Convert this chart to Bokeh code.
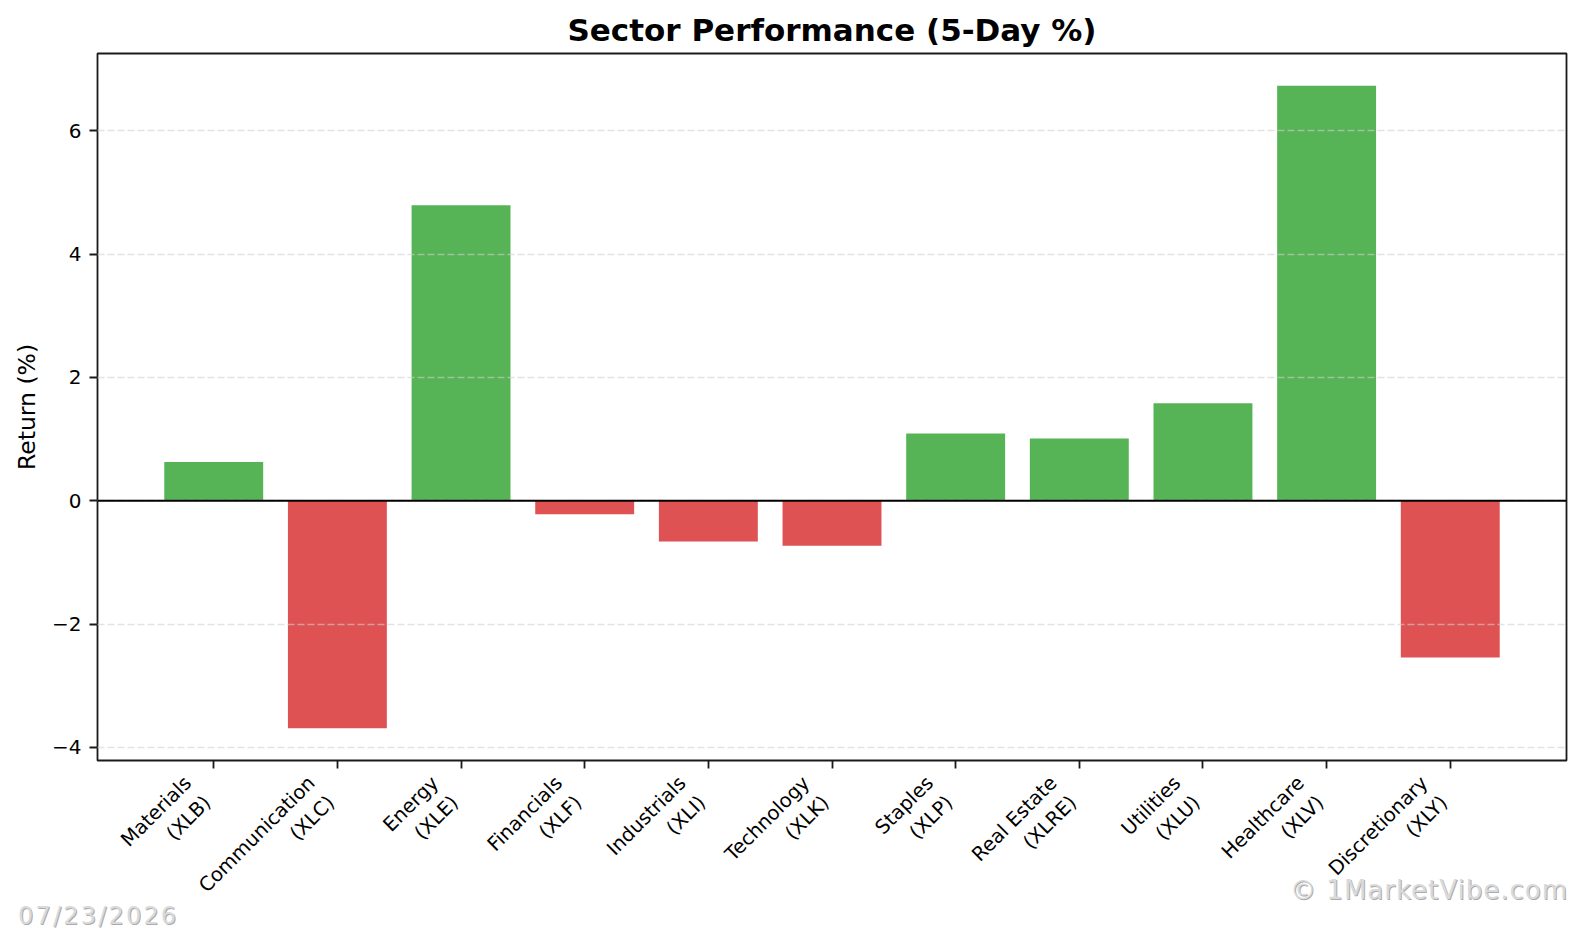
import math

from bokeh.embed import file_html
from bokeh.layouts import column
from bokeh.models import ColumnDataSource, Div, FixedTicker, Range1d, Span
from bokeh.plotting import figure
from bokeh.resources import INLINE

# Sector ETF 5-day returns (%)
sectors = ["Materials", "Communication", "Energy", "Financials", "Industrials",
           "Technology", "Staples", "Real Estate", "Utilities", "Healthcare",
           "Discretionary"]
tickers = ["XLB", "XLC", "XLE", "XLF", "XLI", "XLK", "XLP", "XLRE", "XLU",
           "XLV", "XLY"]
returns = [0.63, -3.69, 4.79, -0.22, -0.66, -0.73, 1.09, 1.01, 1.58, 6.73, -2.54]

y_ticks = [-4, -2, 0, 2, 4, 6]
y_tick_labels = ["\u22124", "\u22122", "0", "2", "4", "6"]

date_text = "07/23/2026"
credit_text = "\u00a9 1MarketVibe.com"

UP = "#2ca02c"
DOWN = "#d62728"
FONT = "DejaVu Sans"
BAR_W = 0.8
LABEL_SHIFT = 0.13   # slide rotated category labels left of their ticks

W, H = 1582, 937
FRAME_L, FRAME_R, FRAME_T, FRAME_B = 97, 1566, 53, 760

idx = list(range(len(sectors)))
colors = [UP if r >= 0 else DOWN for r in returns]
src = ColumnDataSource(dict(x=idx, top=returns, color=colors))

# axis limits with a 5% margin around the data, as in autoscaling
x_lo, x_hi = -BAR_W / 2, len(idx) - 1 + BAR_W / 2
x_pad = 0.05 * (x_hi - x_lo)
y_lo, y_hi = min(0, min(returns)), max(0, max(returns))
y_pad = 0.05 * (y_hi - y_lo)

p = figure(
    width=W, height=H,
    x_range=Range1d(x_lo - x_pad, x_hi + x_pad),
    y_range=Range1d(y_lo - y_pad, y_hi + y_pad),
    output_backend="svg", toolbar_location=None, tools="",
    min_border_left=FRAME_L, min_border_right=W - FRAME_R,
    min_border_top=FRAME_T, min_border_bottom=H - FRAME_B,
    background_fill_color="white", border_fill_color="white",
)

p.vbar(x="x", top="top", bottom=0, width=BAR_W, source=src,
       fill_color="color", fill_alpha=0.8, line_color=None)

# title
p.title.text = "Sector Performance (5-Day %)"
p.title.align = "center"
p.title.text_font = FONT
p.title.text_font_size = "31px"
p.title.text_font_style = "bold"
p.title.text_color = "black"
p.title.standoff = 12

# frame
p.outline_line_color = "#1a1a1a"
p.outline_line_width = 1.8
p.outline_line_alpha = 1.0

# grid: horizontal dashed only, drawn above the bars
p.xgrid.grid_line_color = None
p.ygrid.ticker = FixedTicker(ticks=y_ticks)
p.ygrid.grid_line_color = "#d0d0d0"
p.ygrid.grid_line_alpha = 0.6
p.ygrid.grid_line_width = 1.6
p.ygrid.grid_line_dash = "7 3"
p.ygrid.level = "overlay"

# zero reference line
p.add_layout(Span(location=0, dimension="width", line_color="black",
                  line_width=1.8, level="overlay"))

# x axis: tick marks drawn as minor ticks at the bar centres, labels on
# (invisible) major ticks slid slightly left so the rotated text ends at the tick
label_pos = [i - LABEL_SHIFT for i in idx]
xa = p.xaxis[0]
xa.ticker = FixedTicker(ticks=label_pos, minor_ticks=idx)
xa.major_label_overrides = {pos: f"{s}\n({t})"
                            for pos, s, t in zip(label_pos, sectors, tickers)}
xa.major_label_orientation = math.pi / 4
xa.major_label_text_font = FONT
xa.major_label_text_font_size = "19.6px"
xa.major_label_text_color = "black"
xa.major_label_standoff = 21
xa.major_tick_out = 0
xa.major_tick_in = 0
xa.major_tick_line_color = None
xa.minor_tick_out = 8
xa.minor_tick_in = 0
xa.minor_tick_line_color = "#1a1a1a"
xa.minor_tick_line_width = 1.8
xa.axis_line_color = None

# y axis
ya = p.yaxis[0]
ya.ticker = FixedTicker(ticks=y_ticks)
ya.major_label_overrides = dict(zip(y_ticks, y_tick_labels))
ya.major_label_text_font = FONT
ya.major_label_text_font_size = "20px"
ya.major_label_text_color = "black"
ya.major_label_standoff = 8
ya.major_tick_out = 8
ya.major_tick_in = 0
ya.minor_tick_line_color = None
ya.major_tick_line_color = "#1a1a1a"
ya.major_tick_line_width = 1.8
ya.axis_line_color = None
ya.axis_label = "Return (%)"
ya.axis_label_text_font = FONT
ya.axis_label_text_font_size = "23.5px"
ya.axis_label_text_font_style = "normal"
ya.axis_label_text_color = "black"
ya.axis_label_standoff = 8

# footer stamps: a transparent strip laid over the bottom edge of the figure
FOOT_H = 61
foot_top = H - FOOT_H
base = ("position:absolute; white-space:nowrap; font-family:'DejaVu Sans'; "
        "line-height:30px; color:#dadada; text-shadow:1px 1px 0 #ababab;")
footer_html = (
    f'<div style="position:relative; width:{W}px; height:{FOOT_H}px;">'
    f'<span style="{base} font-size:24px; letter-spacing:2.2px; left:18px; '
    f'top:{916 - foot_top - 15}px;">{date_text}</span>'
    f'<span style="{base} font-size:26px; letter-spacing:1px; '
    f'right:{W - 1568}px; top:{890 - foot_top - 15}px;">{credit_text}</span>'
    '</div>'
)
footer = Div(text=footer_html, width=W, height=FOOT_H,
             margin=(-FOOT_H, 0, 0, 0),
             styles={"position": "relative", "z-index": "5"})

page = column(p, footer, spacing=0)

open("out.html", "w").write(file_html(page, INLINE))
